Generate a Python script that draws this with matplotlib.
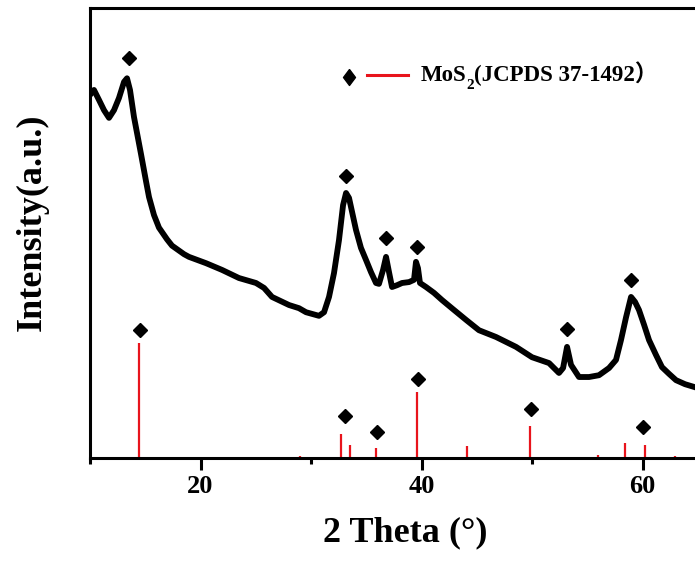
import matplotlib
matplotlib.use("Agg")
import matplotlib.pyplot as plt

plt.rcParams['font.family'] = ['Liberation Serif', 'Noto Sans CJK SC']
plt.rcParams['font.weight'] = 'bold'

# measured XRD pattern (2 theta in degrees, intensity in a.u.)
theta = [10.00, 10.36, 10.81, 11.27, 11.72, 12.17, 12.62, 13.08, 13.35, 13.62,
         13.98, 14.62, 15.07, 15.34, 15.79, 16.24, 16.97, 17.42, 18.51, 18.96,
         20.50, 21.95, 23.48, 25.02, 25.75, 26.47, 28.01, 28.91, 29.55, 30.72,
         31.18, 31.63, 32.08, 32.53, 32.90, 33.17, 33.44, 34.07, 34.52, 34.98,
         35.43, 35.88, 36.15, 36.52, 36.79, 37.06, 37.33, 37.78, 38.24, 38.87,
         39.32, 39.50, 39.68, 39.86, 40.41, 41.13, 41.86, 42.94, 44.03, 45.20,
         46.74, 48.55, 50.00, 51.54, 52.44, 52.81, 53.17, 53.53, 54.25, 55.16,
         56.06, 56.97, 57.60, 58.05, 58.51, 58.96, 59.32, 59.68, 60.14, 60.59,
         61.22, 61.76, 62.40, 63.03, 63.85, 64.66, 65.57]
intensity = [80.7, 81.8, 79.6, 77.3, 75.6, 77.3, 80.0, 83.6, 84.4, 81.8,
             75.8, 67.5, 61.5, 58.0, 54.0, 51.2, 48.6, 47.2, 45.3, 44.7,
             43.3, 41.8, 40.0, 38.9, 37.8, 35.8, 34.0, 33.3, 32.4, 31.6,
             32.4, 35.8, 41.1, 48.4, 56.2, 58.9, 57.8, 50.7, 46.7, 44.0,
             41.3, 38.9, 38.7, 41.8, 44.7, 41.3, 38.0, 38.4, 38.9, 39.1,
             39.6, 43.6, 42.2, 38.9, 38.0, 36.7, 35.1, 32.9, 30.7, 28.4,
             26.9, 24.7, 22.4, 21.1, 18.9, 20.0, 24.7, 20.7, 18.0, 18.0,
             18.4, 20.0, 21.8, 26.2, 31.3, 35.8, 34.7, 32.9, 29.6, 26.2,
             22.9, 20.2, 18.7, 17.3, 16.4, 15.8, 15.1]

# MoS2 reference lines (JCPDS 37-1492), relative intensity
ref_theta = [14.4, 29.0, 32.7, 33.5, 35.9, 39.6, 44.1, 49.8, 56.0, 58.4, 60.2, 62.9]
ref_intensity = [100, 1.5, 21, 11, 9, 57.5, 10, 28, 3, 13, 11, 1.5]

# diamond marks above the sample peaks and above the reference lines
peak_theta = [13.5, 33.2, 36.8, 39.6, 53.2, 59.0]
peak_y = [88.9, 62.7, 48.9, 46.9, 28.7, 39.6]
ref_mark_theta = [14.5, 33.1, 36.0, 39.7, 49.9, 60.0]
ref_mark_y = [28.4, 9.3, 5.8, 17.6, 10.9, 6.9]

REF_SCALE = 0.256
RED = '#e8141c'

fig = plt.figure(figsize=(6.95, 5.61), dpi=100)
ax = fig.add_axes([0.1295, 0.1836, 0.954, 0.802])

ax.plot(theta, intensity, color='black', lw=4.2, solid_joinstyle='round')
ax.vlines(ref_theta, 0, [v * REF_SCALE for v in ref_intensity], color=RED, lw=1.6)
ax.plot(peak_theta, peak_y, 'D', color='black', ms=7.5, ls='none')
ax.plot(ref_mark_theta, ref_mark_y, 'D', color='black', ms=7.5, ls='none')

ax.set_xlim(10, 70)
ax.set_ylim(0, 100)
ax.set_xticks([20, 40, 60])
ax.set_xticks([10, 30, 50], minor=True)
ax.set_yticks([])
ax.tick_params(axis='x', which='major', direction='out', length=8.5, width=2.2,
               labelsize=19, pad=4)
ax.tick_params(axis='x', which='minor', direction='out', length=4.5, width=2.2)
for s in ax.spines.values():
    s.set_linewidth(2.2)

ax.set_xlabel('2 Theta (°)', fontsize=26, fontweight='bold')
ax.xaxis.set_label_coords(0.475, -0.13)
ax.set_ylabel('Intensity(a.u.)', fontsize=26, fontweight='bold')
ax.yaxis.set_label_coords(-0.062, 0.524)

# legend drawn by hand: diamond, red line, label
ax.plot([0.391], [0.846], marker=[(0, 1), (0.75, 0), (0, -1), (-0.75, 0), (0, 1)],
        ms=11.5, color='black', transform=ax.transAxes, clip_on=False)
ax.plot([0.418, 0.480], [0.851, 0.851], color=RED, lw=2.2, transform=ax.transAxes)
t1 = ax.text(0.498, 0.838, 'MoS', fontsize=16.5, fontweight='bold',
             ha='left', va='baseline', transform=ax.transAxes)
t2 = ax.annotate('2', xy=(1, 0), xycoords=t1, xytext=(0, -4),
                 textcoords='offset points', fontsize=11, fontweight='bold',
                 ha='left', va='bottom')
ax.annotate('(JCPDS 37-1492）', xy=(1, 0), xycoords=(t2, t1), fontsize=16.5,
            fontweight='bold', ha='left', va='bottom')

fig.savefig('out.png', dpi=100)
